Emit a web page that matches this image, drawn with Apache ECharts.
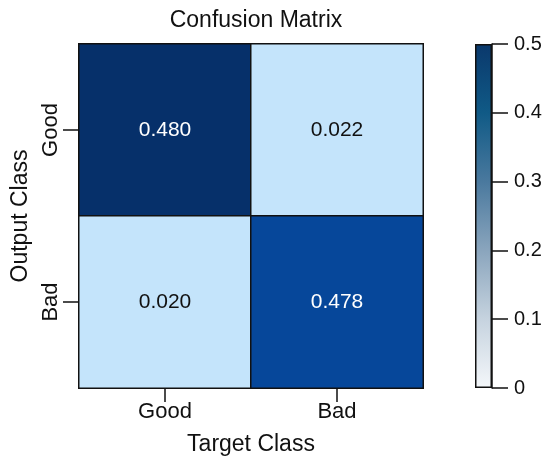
<!DOCTYPE html>
<html>
<head>
<meta charset="utf-8">
<script src="https://cdn.jsdelivr.net/npm/echarts@6/dist/echarts.min.js"></script>
<style>
html,body{margin:0;padding:0;background:#fff;}
#chart{width:550px;height:468px;}
</style>
</head>
<body>
<div id="chart"></div>
<script>
// ---- data ----
var targetClasses = ['Good', 'Bad'];        // x axis (Target Class)
var outputClasses = ['Bad', 'Good'];        // y axis bottom -> top (Output Class)
// rows: output class Good, Bad ; columns: target Good, Bad
var rowGood = [0.480, 0.022];
var rowBad  = [0.020, 0.478];
var colorbarMin = 0;
var colorbarMax = 0.5;
var colorbarStep = 0.1;

var FONT = '"Liberation Sans", Arial, Helvetica, sans-serif';

var cells = [];
rowGood.forEach(function (v, i) { cells.push([i, 1, v]); });
rowBad.forEach(function (v, i) { cells.push([i, 0, v]); });
var heatData = cells.map(function (c) {
  return {
    value: c,
    label: { color: c[2] > 0.25 ? '#ffffff' : '#111111' }
  };
});

var chart = echarts.init(document.getElementById('chart'), null, { renderer: 'canvas' });

var option = {
  backgroundColor: '#ffffff',
  animation: false,
  title: {
    text: 'Confusion Matrix',
    left: 251,
    top: 4,
    textAlign: 'center',
    textStyle: { fontFamily: FONT, fontSize: 23, fontWeight: 'normal', color: '#111' }
  },
  grid: [
    { left: 79, top: 44, width: 344, height: 344, containLabel: false },
    { left: 475, top: 44, width: 17, height: 344, containLabel: false }
  ],
  xAxis: [
    {
      type: 'category', gridIndex: 0, data: targetClasses, position: 'bottom',
      boundaryGap: true,
      name: 'Target Class', nameLocation: 'middle', nameGap: 45,
      nameTextStyle: { fontFamily: FONT, fontSize: 23, color: '#111' },
      axisLine: { show: true, lineStyle: { color: '#111', width: 1.5 } },
      axisTick: { show: true, alignWithLabel: true, length: 14, lineStyle: { color: '#111', width: 1.5 } },
      axisLabel: { fontFamily: FONT, fontSize: 22, color: '#111', margin: 13 },
      splitLine: { show: false }
    },
    {
      type: 'category', gridIndex: 1, data: ['cb'], show: false, boundaryGap: true
    }
  ],
  yAxis: [
    {
      type: 'category', gridIndex: 0, data: outputClasses, position: 'left',
      boundaryGap: true,
      name: 'Output Class', nameLocation: 'middle', nameGap: 46, nameRotate: 90,
      nameTextStyle: { fontFamily: FONT, fontSize: 23, color: '#111' },
      axisLine: { show: true, lineStyle: { color: '#111', width: 1.5 } },
      axisTick: { show: true, alignWithLabel: true, length: 16, lineStyle: { color: '#111', width: 1.5 } },
      axisLabel: { fontFamily: FONT, fontSize: 22, color: '#111', rotate: 90, margin: 17 },
      splitLine: { show: false }
    },
    {
      type: 'value', gridIndex: 1, position: 'right',
      min: colorbarMin, max: colorbarMax, interval: colorbarStep,
      axisLine: { show: true, lineStyle: { color: '#111', width: 1.5 } },
      axisTick: { show: true, inside: false, length: 16, lineStyle: { color: '#111', width: 1.5 } },
      axisLabel: { fontFamily: FONT, fontSize: 20, color: '#111', margin: 22 },
      splitLine: { show: false }
    }
  ],
  visualMap: {
    type: 'piecewise',
    show: false,
    seriesIndex: 0,
    dimension: 2,
    pieces: [
      { lt: 0.1, color: '#c4e4fb' },
      { gte: 0.1, lt: 0.479, color: '#06479a' },
      { gte: 0.479, color: '#06306a' }
    ]
  },
  series: [
    {
      type: 'heatmap',
      xAxisIndex: 0, yAxisIndex: 0,
      data: heatData,
      itemStyle: { borderColor: '#111', borderWidth: 1.5 },
      label: {
        show: true,
        fontFamily: FONT,
        fontSize: 21,
        formatter: function (p) { return p.value[2].toFixed(3); }
      },
      emphasis: { disabled: true }
    },
    {
      type: 'bar',
      xAxisIndex: 1, yAxisIndex: 1,
      data: [colorbarMax],
      barWidth: '100%',
      silent: true,
      itemStyle: {
        borderColor: '#111', borderWidth: 1.5,
        color: new echarts.graphic.LinearGradient(0, 0, 0, 1, [
          { offset: 0, color: '#0a386c' },
          { offset: 0.2, color: '#105a86' },
          { offset: 0.4, color: '#4a799e' },
          { offset: 0.6, color: '#8aa5bd' },
          { offset: 0.8, color: '#c6d3df' },
          { offset: 1, color: '#f4f7fa' }
        ])
      }
    }
  ]
};

chart.setOption(option);
</script>
</body>
</html>
